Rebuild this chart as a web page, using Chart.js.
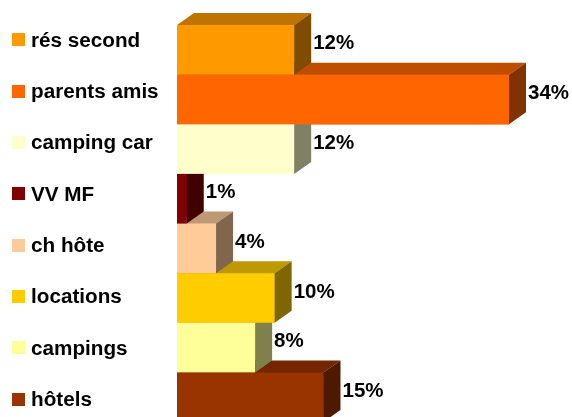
<!DOCTYPE html>
<html lang="fr">
<head>
<meta charset="UTF-8">
<title>Hébergement</title>
<script src="https://cdn.jsdelivr.net/npm/chart.js"></script>
<style>
    html, body {
        margin: 0;
        padding: 0;
        background: #fff;
        overflow: hidden;
    }
    .wrap {
        position: relative;
        width: 572px;
        height: 417px;
        overflow: hidden;
    }
    .chart-box {
        position: absolute;
        left: 0;
        top: 0;
        width: 572px;
        height: 422px;
    }
    .legend {
        position: absolute;
        left: 12px;
        top: 14px;
        margin: 0;
        padding: 0;
        list-style: none;
        font-family: "Liberation Sans", Arial, sans-serif;
        font-weight: bold;
        font-size: 20.7px;
        color: #000;
    }
    .legend li {
        height: 51.36px;
        display: flex;
        align-items: center;
        white-space: nowrap;
    }
    .legend span.box {
        display: inline-block;
        width: 13px;
        height: 13px;
        margin-right: 6px;
    }
</style>
</head>
<body>
<div class="wrap">
    <div class="chart-box">
        <canvas id="chart" width="572" height="422"></canvas>
    </div>
    <ul class="legend" id="legend"></ul>
</div>
<script>
    // categories, top to bottom
    const categories = ["rés second", "parents amis", "camping car", "VV MF", "ch hôte", "locations", "campings", "hôtels"];
    // share of each type, in percent
    const shares = [12, 34, 12, 1, 4, 10, 8, 15];
    const colors = ["#FF9900", "#FF6600", "#FFFFCC", "#800000", "#FFCC99", "#FFCC00", "#FFFF99", "#993300"];

    // depth of the 3d boxes
    const DX = 17, DY = 12;

    function shade(hex, k) {
        const n = parseInt(hex.slice(1), 16);
        const r = Math.round(((n >> 16) & 255) * k);
        const g = Math.round(((n >> 8) & 255) * k);
        const b = Math.round((n & 255) * k);
        return "rgb(" + r + "," + g + "," + b + ")";
    }

    // legend on the left
    const legend = document.getElementById("legend");
    categories.forEach((c, i) => {
        const li = document.createElement("li");
        const box = document.createElement("span");
        box.className = "box";
        box.style.background = colors[i];
        li.appendChild(box);
        li.appendChild(document.createTextNode(c));
        legend.appendChild(li);
    });

    // draws each bar as a box (front, top, side), bottom row first
    const boxes3d = {
        id: "boxes3d",
        afterDatasetsDraw(chart) {
            const ctx = chart.ctx;
            const bars = chart.getDatasetMeta(0).data;
            ctx.save();
            for (let i = bars.length - 1; i >= 0; i--) {
                const p = bars[i].getProps(["x", "y", "base", "height"], true);
                const top = p.y - p.height / 2;
                const bottom = p.y + p.height / 2;
                const x0 = p.base, x1 = p.x;
                const col = colors[i];

                ctx.fillStyle = col;
                ctx.fillRect(x0, top, x1 - x0, bottom - top);

                ctx.beginPath();
                ctx.moveTo(x0, top);
                ctx.lineTo(x0 + DX, top - DY);
                ctx.lineTo(x1 + DX, top - DY);
                ctx.lineTo(x1, top);
                ctx.closePath();
                ctx.fillStyle = shade(col, 0.75);
                ctx.fill();

                ctx.beginPath();
                ctx.moveTo(x1, top);
                ctx.lineTo(x1 + DX, top - DY);
                ctx.lineTo(x1 + DX, bottom - DY);
                ctx.lineTo(x1, bottom);
                ctx.closePath();
                ctx.fillStyle = shade(col, 0.5);
                ctx.fill();
            }

            // value labels
            ctx.fillStyle = "#000";
            ctx.font = "bold 20.5px 'Liberation Sans', Arial, sans-serif";
            ctx.textAlign = "left";
            ctx.textBaseline = "middle";
            bars.forEach((bar, i) => {
                const p = bar.getProps(["x", "y"], true);
                ctx.fillText(shares[i] + "%", p.x + DX + 2, p.y - DY / 2);
            });
            ctx.restore();
        }
    };

    new Chart(document.getElementById("chart"), {
        type: "bar",
        data: {
            labels: categories,
            datasets: [{
                data: shares,
                backgroundColor: colors,
                borderWidth: 0,
                barPercentage: 1,
                categoryPercentage: 1
            }]
        },
        options: {
            indexAxis: "y",
            responsive: false,
            animation: false,
            layout: {
                padding: { left: 177, right: 4.4, top: 25, bottom: 0 }
            },
            scales: {
                x: { display: false, min: 0, max: 40 },
                y: { display: false }
            },
            plugins: {
                legend: { display: false },
                tooltip: { enabled: false }
            }
        },
        plugins: [boxes3d]
    });
</script>
</body>
</html>
